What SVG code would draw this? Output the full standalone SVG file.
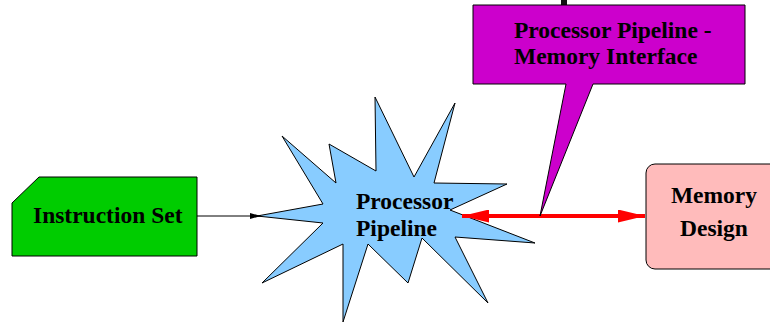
<svg xmlns="http://www.w3.org/2000/svg" width="770" height="323" viewBox="0 0 770 323">
  <style>
    .label { font-family: "Liberation Serif", "Times New Roman", serif; font-weight: bold; font-size: 23.5px; fill: #000; }
    .shape { stroke: #000; stroke-width: 1; stroke-linejoin: miter; }
  </style>
  <defs>
    <marker id="head-red" viewBox="0 0 27 13" refX="27" refY="6.5" markerWidth="27" markerHeight="13" markerUnits="userSpaceOnUse" orient="auto-start-reverse">
      <path d="M0,0 L27,6.5 L0,13 z" fill="#ff0000"/>
    </marker>
    <marker id="head-black" viewBox="0 0 11 6" refX="11" refY="3" markerWidth="11" markerHeight="6" markerUnits="userSpaceOnUse" orient="auto">
      <path d="M0,0 L11,3 L0,6 z" fill="#000"/>
    </marker>
  </defs>

  <rect width="770" height="323" fill="#ffffff"/>

  <!-- small dark tab above the callout -->
  <rect x="561" y="0" width="6" height="5" fill="#111"/>

  <g id="processor-pipeline">
    <polygon class="shape" fill="#88ccff" points="257,216 323,204 282,136 336,183 329,144 376,171 375,97 414,177 455,103 434,183 507,184 450,210 535,243 455,237 488,303 422,238 408,283 368,244 343,322 343,244 262,283 323,223"/>
    <text class="label" x="356" y="209">Processor</text>
    <text class="label" x="356" y="236">Pipeline</text>
  </g>

  <g id="instruction-set">
    <polygon class="shape" fill="#00cc00" points="39,177 197,177 197,256 12,256 12,203"/>
    <text class="label" x="33" y="223">Instruction Set</text>
  </g>

  <g id="memory-design">
    <rect class="shape" fill="#ffbbbb" x="646" y="164" width="140" height="105" rx="9" ry="9"/>
    <text class="label" x="714" y="203" text-anchor="middle">Memory</text>
    <text class="label" x="714" y="236" text-anchor="middle">Design</text>
  </g>

  <g id="connectors">
    <line x1="197" y1="216" x2="261" y2="216" stroke="#000" stroke-width="1" marker-end="url(#head-black)"/>
    <line x1="462" y1="216" x2="645" y2="216" stroke="#ff0000" stroke-width="4" marker-start="url(#head-red)" marker-end="url(#head-red)"/>
  </g>

  <g id="interface-callout">
    <path class="shape" fill="#cc00cc" d="M473,5 H745 V84 H593 L540,216 L566,84 H473 Z"/>
    <text class="label" x="514" y="38">Processor Pipeline -</text>
    <text class="label" x="514" y="64">Memory Interface</text>
  </g>
</svg>
